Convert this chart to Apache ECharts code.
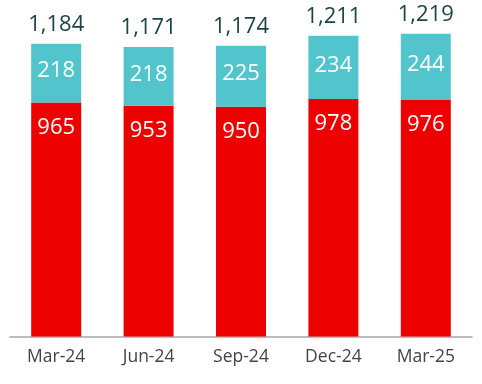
<!DOCTYPE html>
<html><head><meta charset="utf-8">
<script src="https://cdn.jsdelivr.net/npm/echarts@6/dist/echarts.min.js"></script>
<style>html,body{margin:0;padding:0;background:#fff}#c{width:482px;height:384px}</style>
</head><body><div id="c"></div>
<script>
const categories = ['Mar-24','Jun-24','Sep-24','Dec-24','Mar-25'];
const redValues = [965, 953, 950, 978, 976];
const tealValues = [218, 218, 225, 234, 244];
const totals = [1184, 1171, 1174, 1211, 1219];

const fmt = v => v.toLocaleString('en-US');
const font = '"Open Sans", "Noto Sans", sans-serif';
const chart = echarts.init(document.getElementById('c'));
chart.setOption({
  animation: false,
  grid: {left: 10, right: 10, top: 12, bottom: 47.5, containLabel: false},
  xAxis: {
    type: 'category', data: categories,
    axisLine: {show: true, lineStyle: {color: '#a6a6a6', width: 1.5}},
    axisTick: {show: false},
    axisLabel: {color: '#444', fontSize: 17.5, fontFamily: font, margin: 12}
  },
  yAxis: {type: 'value', min: 100, max: 1300, show: false, splitLine: {show: false}},
  series: [
    {type: 'bar', stack: 's', data: redValues, barWidth: 50,
     itemStyle: {color: '#EC0000'},
     label: {show: true, position: 'insideTop', distance: 14, color: '#fff', fontSize: 22, fontFamily: font}},
    {type: 'bar', stack: 's', data: tealValues, barWidth: 50,
     itemStyle: {color: '#52C4CC'},
     label: {show: true, position: 'inside', offset: [0, -2], color: '#fff', fontSize: 22, fontFamily: font}},
    {type: 'bar', stack: 's', data: totals.map(() => 0), barWidth: 50,
     itemStyle: {color: 'transparent'},
     label: {show: true, position: 'top', distance: 8, color: '#1c4446', fontSize: 22, fontFamily: font,
             formatter: p => fmt(totals[p.dataIndex])}}
  ]
});
</script></body></html>
